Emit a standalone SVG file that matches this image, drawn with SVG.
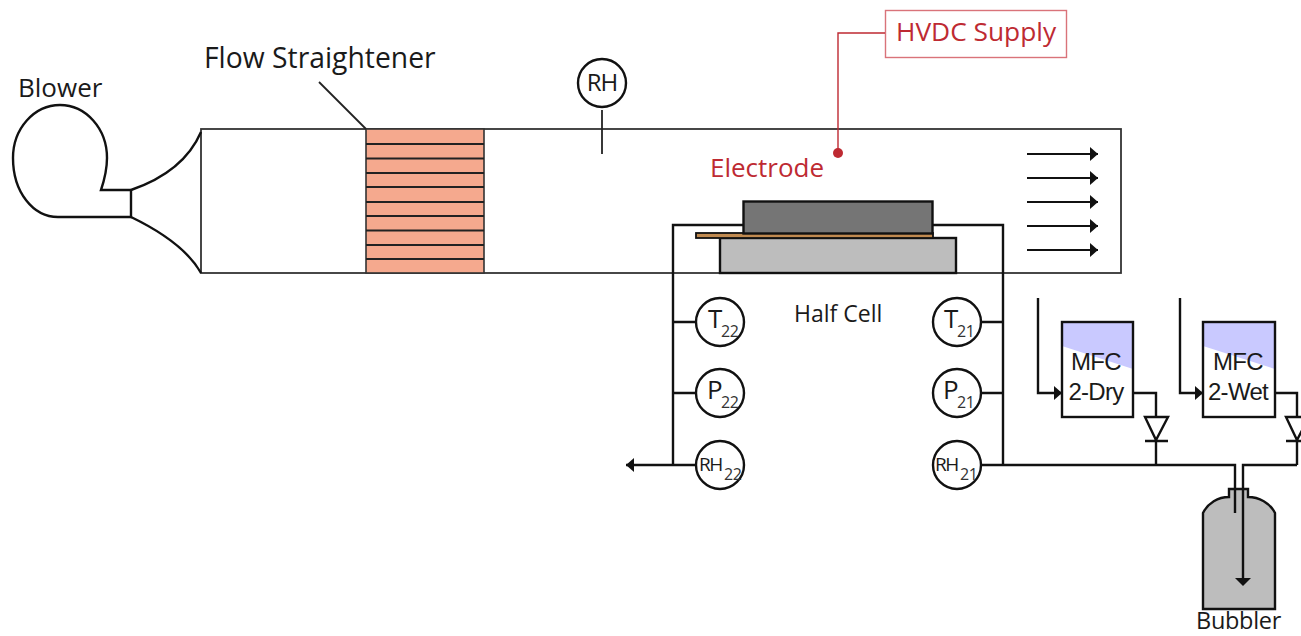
<svg xmlns="http://www.w3.org/2000/svg" width="1301" height="636" viewBox="0 0 1301 636">
<style>
text{font-family:"Open Sans","Noto Sans","Liberation Sans",sans-serif;fill:#1a1a1a}
.l{fill:none;stroke:#111;stroke-width:2.4}
.t{fill:none;stroke:#222;stroke-width:1.8}
.s{fill:#fff;stroke:#111;stroke-width:2.4}
.g{fill:#bdbdbd;stroke:#111;stroke-width:2.4}
.r{fill:none;stroke:#be2a32;stroke-width:1.4}
.m{font-size:26px}
.c{font-size:25px;letter-spacing:-1px}
.f{font-family:"Liberation Sans",Arial,sans-serif;font-size:24px;letter-spacing:-.7px}
.q{font-size:26px;letter-spacing:-1px}
.h{font-size:19px;letter-spacing:-1.500px}
.b{font-size:16px;letter-spacing:-.5px;fill:#333}
.red{fill:#be2a32}
</style>
<defs>
<marker id="a" markerUnits="userSpaceOnUse" markerWidth="10" markerHeight="14" refX="9" refY="7" orient="auto"><path d="M1 0L9 7L1 14Z" fill="#111"/></marker>
</defs>
<g id="duct"><rect x="201" y="129" width="920" height="144" fill="#fff" stroke="#333" stroke-width="1.8"/></g>
<g id="blower">
<path class="l" d="M131 190H101C105 178 107 168 107 158A47 53 0 0 0 13 158C13 192 33 217 58 217H131V190"/>
<path class="l" d="M131 190C160 180 188 162 201 132M131 217C160 231 188 250 201 273"/>
<text x="18" y="97" class="m">Blower</text>
</g>
<g id="flow-straightener">
<rect x="366" y="129" width="118" height="144" fill="#f5a98e" stroke="#333" stroke-width="1.6"/>
<path class="t" d="M366 144H484M366 158.500H484M366 173H484M366 187H484M366 202H484M366 216H484M366 230.500H484M366 245H484M366 259H484"/>
<path class="t" d="M319 82L366 129"/>
<text x="204" y="68" class="m" style="font-size:28.300px">Flow Straightener</text>
</g>
<g id="rh">
<path class="t" d="M602 110V154"/>
<circle class="s" cx="602" cy="83" r="24"/>
<text x="602" y="91" class="c" style="font-size:24px" text-anchor="middle">RH</text>
</g>
<g id="hvdc-supply">
<rect x="885.500" y="10.500" width="181" height="47" fill="#fff" stroke="#d9737a" stroke-width="1.400"/>
<text x="896" y="41" class="m red" style="font-size:26.300px">HVDC Supply</text>
</g>
<g id="electrode">
<circle cx="838" cy="153" r="5" fill="#be2a32"/>
<text x="710" y="177" class="m red">Electrode</text>
</g>
<g id="connectors">
<path class="r" d="M885 33H838V153"/>
<path class="l" d="M743 225H673V465M933 225H1003V465"/>
<path class="l" d="M697 322H673M697 393H673M980 322H1003M980 393H1003"/>
<path class="l" d="M697 465H626" marker-end="url(#a)"/>
<path class="l" d="M980 465H1235V513M1243 584V465H1297"/>
<path class="l" d="M1038 298V393H1062" marker-end="url(#a)"/>
<path class="l" d="M1180 298V393H1203" marker-end="url(#a)"/>
<path class="l" d="M1133 393H1156V417M1156 441V465M1275 393H1297V417M1297 441V465"/>
<g stroke="#111" stroke-width="2">
<path marker-end="url(#a)" d="M1027 154H1098"/>
<path marker-end="url(#a)" d="M1027 178H1098"/>
<path marker-end="url(#a)" d="M1027 202H1098"/>
<path marker-end="url(#a)" d="M1027 226H1098"/>
<path marker-end="url(#a)" d="M1027 250H1098"/>
</g>
</g>
<g id="half-cell">
<rect class="g" x="720" y="238" width="236" height="35"/>
<rect x="696" y="233" width="237" height="5" fill="#c08a50" stroke="#111" stroke-width="1.8"/>
<rect x="743.500" y="201.500" width="189" height="32" fill="#757575" stroke="#111" stroke-width="2.4"/>
<text x="794" y="322" style="font-size:23px">Half Cell</text>
</g>
<g id="t22"><circle class="s" cx="720" cy="322" r="24"/><text x="708" y="328" class="q">T</text><text x="721" y="337" class="b">22</text></g>
<g id="p22"><circle class="s" cx="720" cy="393" r="24"/><text x="707" y="399" class="q">P</text><text x="721" y="408" class="b">22</text></g>
<g id="rh22"><circle class="s" cx="720" cy="465" r="24"/><text x="699" y="471" class="h">RH</text><text x="724" y="480" class="b">22</text></g>
<g id="t21"><circle class="s" cx="957" cy="322" r="24"/><text x="944" y="328" class="q">T</text><text x="957" y="337" class="b">21</text></g>
<g id="p21"><circle class="s" cx="957" cy="393" r="24"/><text x="943" y="399" class="q">P</text><text x="957" y="408" class="b">21</text></g>
<g id="rh21"><circle class="s" cx="957" cy="465" r="24"/><text x="935" y="471" class="h">RH</text><text x="960" y="480" class="b">21</text></g>
<g id="mfc-dry">
<rect x="1062" y="322" width="71" height="95" fill="#fff"/>
<path d="M1062 322H1133V369L1062 346Z" fill="#c9c9ff"/>
<rect class="l" x="1062" y="322" width="71" height="95"/>
<text class="f" x="1096" y="370" text-anchor="middle">MFC</text>
<text class="f" x="1096" y="400" text-anchor="middle">2-Dry</text>
</g>
<g id="mfc-wet">
<rect x="1203" y="322" width="72" height="95" fill="#fff"/>
<path d="M1203 322H1275V369L1203 346Z" fill="#c9c9ff"/>
<rect class="l" x="1203" y="322" width="72" height="95"/>
<text class="f" x="1238" y="370" text-anchor="middle">MFC</text>
<text class="f" x="1238" y="400" text-anchor="middle">2-Wet</text>
</g>
<g id="valve-dry"><path class="l" d="M1145 417H1168L1156 440ZM1145 441H1168"/></g>
<g id="valve-wet"><path class="l" d="M1286 417H1309L1297 440ZM1286 441H1309"/></g>
<g id="bubbler">
<path class="g" d="M1203 609V513C1208 503 1218 497 1229 497V489H1248V497C1259 497 1270 503 1275 513V609Z"/>
<path class="l" d="M1235 489V513M1243 489V584"/>
<path d="M1235 578H1251L1243 586Z" fill="#111"/>
<text x="1196" y="629" style="font-size:23.500px;letter-spacing:-.3px">Bubbler</text>
</g>
</svg>
